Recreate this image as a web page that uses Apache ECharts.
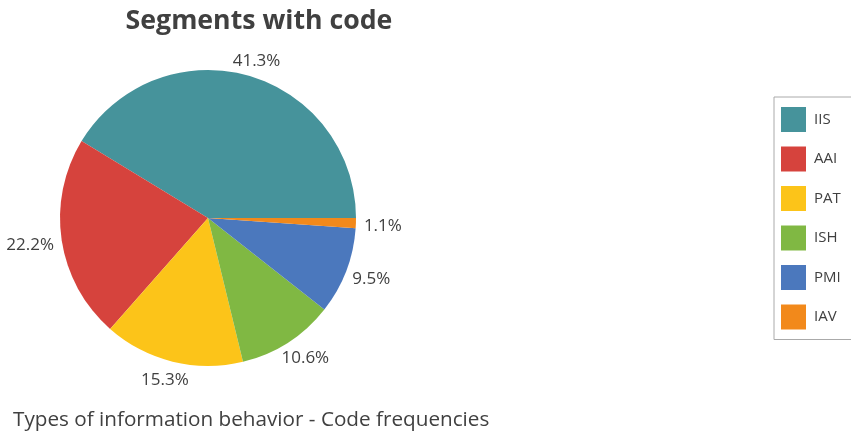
<!DOCTYPE html>
<html>
<head>
<meta charset="utf-8">
<script src="https://cdn.jsdelivr.net/npm/echarts@6/dist/echarts.min.js"></script>
<style>html,body{margin:0;padding:0;background:#fff}#c{width:851px;height:432px}</style>
</head>
<body>
<div id="c"></div>
<script>
const categories = ['IIS', 'AAI', 'PAT', 'ISH', 'PMI', 'IAV'];
const percentages = [41.3, 22.2, 15.3, 10.6, 9.5, 1.1];
const colors = ['#46939B', '#D6433D', '#FCC419', '#80B843', '#4B78BD', '#F2891B'];

const CX = 208, CY = 218, R = 148, GAP = 8;
const total = percentages.reduce((a, b) => a + b, 0);
const midAngles = [];
let acc = 0;
percentages.forEach(v => { midAngles.push((acc + v / 2) / total * 2 * Math.PI); acc += v; });

const chart = echarts.init(document.getElementById('c'), null, {renderer: 'canvas'});
const font = '"Open Sans", "Noto Sans", sans-serif';
chart.setOption({
  animation: false,
  color: colors,
  title: [{
    text: 'Segments with code',
    left: 254, top: 3, textAlign: 'center',
    textStyle: {fontFamily: font, fontSize: 26.7, fontWeight: 'bold', color: '#404040'}
  }, {
    text: 'Types of information behavior - Code frequencies',
    left: 8, top: 405,
    textStyle: {fontFamily: font, fontSize: 20.7, fontWeight: 'normal', color: '#404040'}
  }],
  legend: {
    orient: 'vertical',
    left: 774, top: 97,
    padding: [10, 40, 10, 7],
    borderColor: '#aaa', borderWidth: 1,
    itemWidth: 25, itemHeight: 25, itemGap: 14.5,
    icon: 'rect',
    textStyle: {fontFamily: font, fontSize: 15, color: '#404040', padding: [0,0,0,3]},
    data: categories
  },
  series: [{
    type: 'pie',
    center: [CX, CY],
    radius: R,
    startAngle: 0,
    clockwise: false,
    label: {
      show: true, position: 'outside', overflow: 'none',
      formatter: p => p.value.toFixed(1) + '%',
      fontFamily: font, fontSize: 17, color: '#404040'
    },
    labelLine: {show: false, length: 4, length2: 0},
    labelLayout: function (params) {
      const a = midAngles[params.dataIndex];
      const c = Math.cos(a), s = Math.sin(a);
      const w = params.labelRect.width, h = params.labelRect.height;
      const r = R + GAP;
      return {
        x: CX + r * c + c * w / 2,
        y: CY - r * s - s * h / 2 + 2,
        align: 'center',
        verticalAlign: 'middle'
      };
    },
    itemStyle: {borderWidth: 0},
    emphasis: {disabled: true},
    data: categories.map((c, i) => ({name: c, value: percentages[i]}))
  }]
});
</script>
</body>
</html>
